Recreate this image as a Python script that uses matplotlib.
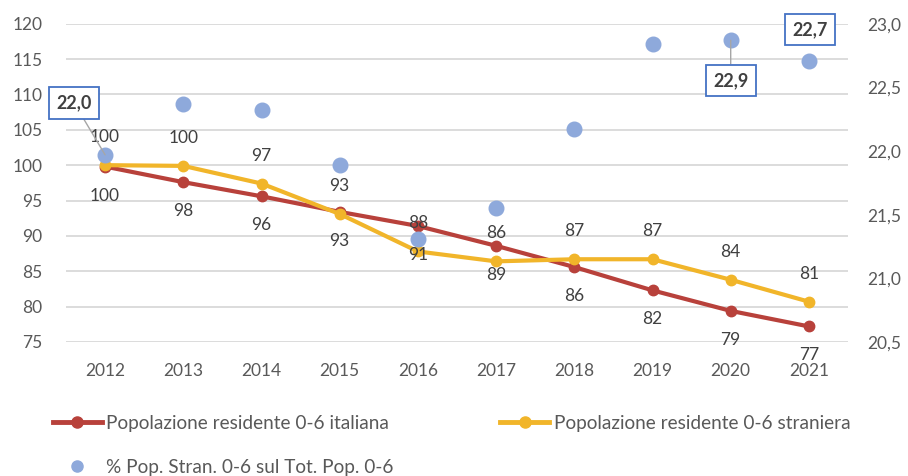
import matplotlib
matplotlib.use("Agg")
import matplotlib.pyplot as plt
from matplotlib.lines import Line2D
from matplotlib.ticker import FuncFormatter, MultipleLocator

# data
years = ['2012', '2013', '2014', '2015', '2016', '2017', '2018', '2019', '2020', '2021']
italiana = [99.8, 97.6, 95.6, 93.4, 91.4, 88.6, 85.6, 82.3, 79.4, 77.2]
straniera = [100.0, 99.9, 97.4, 93.1, 87.8, 86.4, 86.7, 86.7, 83.8, 80.7]
pct_stran = [21.97, 22.37, 22.32, 21.89, 21.31, 21.55, 22.17, 22.84, 22.87, 22.71]

RED = '#B8413B'
YELLOW = '#F1B52A'
BLUE = '#8EA9DB'
TXT = '#595959'

font = ['Lato', 'DejaVu Sans']

def comma(v, pos=None):
    return f"{v:.1f}".replace('.', ',')

fig = plt.figure(figsize=(9.08, 4.76), dpi=100)
ax = fig.add_axes([66/908, 1-342/476, (848-66)/908, (342-23.7)/476])
ax2 = ax.twinx()

x = range(len(years))
ax.plot(x, italiana, color=RED, lw=3, marker='o', ms=7.5, zorder=3)
ax.plot(x, straniera, color=YELLOW, lw=3, marker='o', ms=7.5, zorder=3)
ax2.plot(x, pct_stran, ls='none', marker='o', ms=10.5, color=BLUE, zorder=3)

ax.set_xlim(-0.5, len(years) - 0.5)
ax.set_ylim(75, 120)
ax.yaxis.set_major_locator(MultipleLocator(5))
ax2.set_ylim(20.5, 23.0)
ax2.yaxis.set_major_locator(MultipleLocator(0.5))
ax2.yaxis.set_major_formatter(FuncFormatter(comma))

ax.grid(axis='y', color='#D9D9D9', lw=1.3)
ax.set_axisbelow(True)
for a in (ax, ax2):
    for s in a.spines.values():
        s.set_visible(False)

ax.set_xticks(list(x))
ax.set_xticklabels(years)
ax.tick_params(axis='x', length=0, pad=15, labelcolor=TXT)
ax.tick_params(axis='y', length=0, pad=17, labelcolor=TXT)
ax2.tick_params(axis='y', length=0, pad=14, labelcolor=TXT)
for lab in ax.get_xticklabels() + ax.get_yticklabels() + ax2.get_yticklabels():
    lab.set_family(font)
    lab.set_fontsize(12.5)

# data labels for the lines
for i, v in enumerate(italiana):
    ax.annotate(f"{v:.0f}", (i, v), xytext=(0, -29), textcoords='offset pixels',
                ha='center', va='center', fontsize=12.5, family=font,
                color='#404040', annotation_clip=False, zorder=5)
for i, v in enumerate(straniera):
    ax.annotate(f"{v:.0f}", (i, v), xytext=(0, 28), textcoords='offset pixels',
                ha='center', va='center', fontsize=12.5, family=font,
                color='#404040', annotation_clip=False, zorder=5)

# boxed labels for the percentage series
box = dict(boxstyle='square,pad=0.4', fc='white', ec='#4472C4', lw=1.3)
leader = dict(arrowstyle='-', color='#A6A6A6', lw=1, shrinkA=0, shrinkB=0)
for i, off, arrow in [(0, (-31, 52), leader), (8, (0, -40), leader), (9, (1, 31), None)]:
    ax2.annotate(comma(pct_stran[i]), (i, pct_stran[i]), xytext=off,
                 textcoords='offset pixels', ha='center', va='center',
                 fontsize=13, fontweight='bold', family=font, color='#404040',
                 bbox=box, arrowprops=arrow, annotation_clip=False, zorder=6)

handles = [
    Line2D([], [], color=RED, lw=3.5, marker='o', ms=8),
    Line2D([], [], ls='none', marker='o', ms=8, color=BLUE),
    Line2D([], [], color=YELLOW, lw=3.5, marker='o', ms=8),
]
labels = ['Popolazione residente 0-6 italiana',
          '% Pop. Stran. 0-6 sul Tot. Pop. 0-6',
          'Popolazione residente 0-6 straniera']
leg = fig.legend(handles, labels, ncol=2, loc='upper left',
                 bbox_to_anchor=(53/908, 1-415/476), frameon=False,
                 borderpad=0, borderaxespad=0, handlelength=2.55,
                 handletextpad=0.25, columnspacing=5.6, labelspacing=1.42,
                 prop={'family': font, 'size': 13.7})
for t in leg.get_texts():
    t.set_color(TXT)

fig.savefig('out.png', dpi=100)
